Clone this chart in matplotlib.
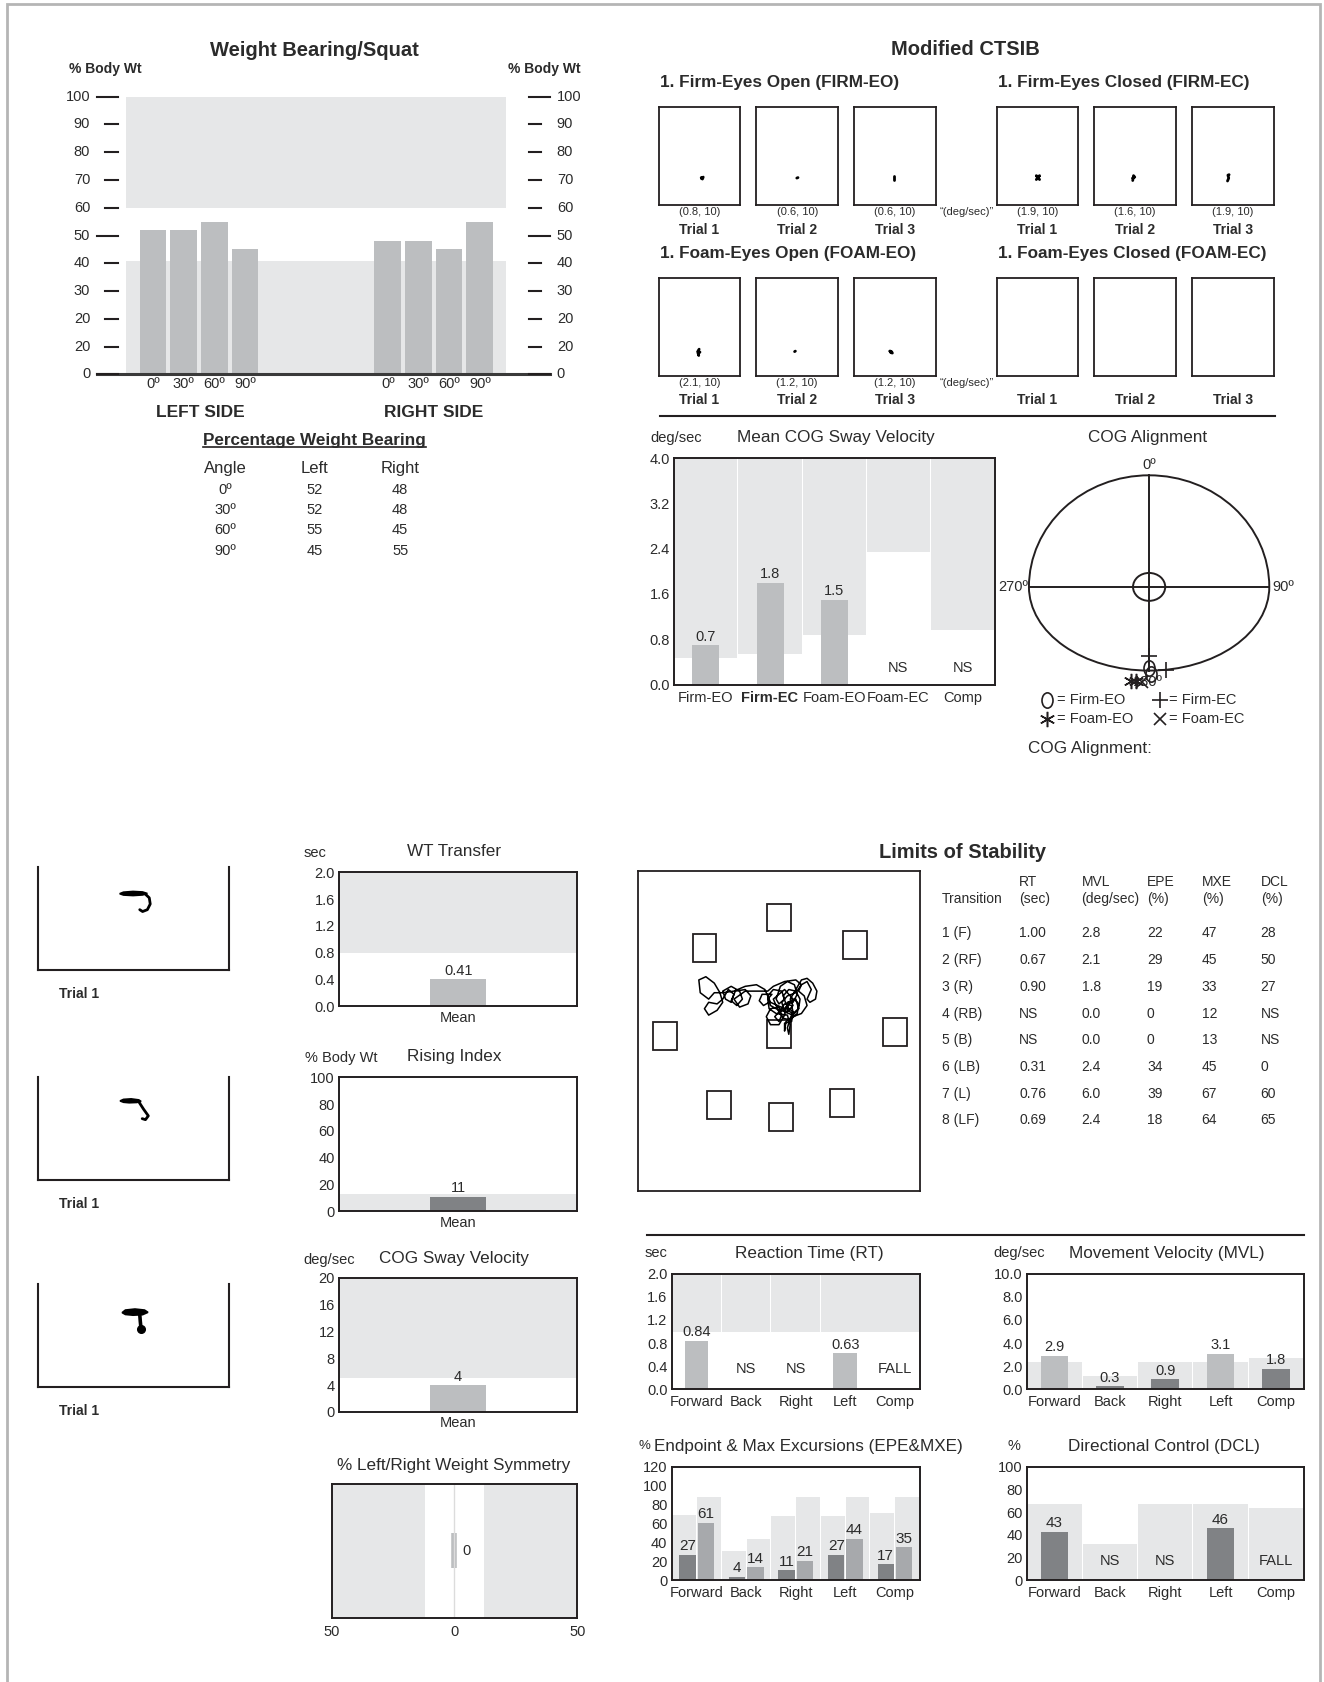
import numpy as np
import matplotlib
matplotlib.use("Agg")
import matplotlib.pyplot as plt
from matplotlib.patches import Rectangle, Ellipse, Arc, Polygon
from matplotlib.lines import Line2D
from matplotlib.path import Path
from matplotlib.transforms import blended_transform_factory as blend

# ---------------------------------------------------------------- data
wb_angles = ['0º', '30º', '60º', '90º']
wb_left = [52, 52, 55, 45]
wb_right = [48, 48, 45, 55]
wb_norm_low = 41
wb_norm_high = 60
wb_ticks = [0, 10, 20, 30, 40, 50, 60, 70, 80, 90, 100]
wb_ticklabels = ['0', '20', '20', '30', '40', '50', '60', '70', '80', '90', '100']
wb_long_ticks = [0, 50, 100]

ctsib_conditions = ['1. Firm-Eyes Open (FIRM-EO)', '1. Firm-Eyes Closed (FIRM-EC)',
                    '1. Foam-Eyes Open (FOAM-EO)', '1. Foam-Eyes Closed (FOAM-EC)']
ctsib_velocity = [[0.8, 0.6, 0.6], [1.9, 1.6, 1.9], [2.1, 1.2, 1.2], [None, None, None]]
ctsib_duration = 10
ctsib_traces = [
    [[(0.525, 0.27), (0.545, 0.285), (0.535, 0.265), (0.52, 0.28)],
     [(0.495, 0.275), (0.51, 0.28)],
     [(0.484, 0.26), (0.484, 0.295)]],
    [[(0.485, 0.26), (0.525, 0.30), (0.505, 0.28), (0.485, 0.30), (0.525, 0.26)],
     [(0.47, 0.25), (0.48, 0.30), (0.495, 0.285), (0.47, 0.275)],
     [(0.435, 0.245), (0.45, 0.275), (0.44, 0.305), (0.455, 0.31)]],
    [[(0.495, 0.27), (0.48, 0.25), (0.505, 0.24), (0.485, 0.225), (0.49, 0.205), (0.478, 0.24)],
     [(0.468, 0.245), (0.478, 0.25)],
     [(0.44, 0.25), (0.46, 0.245), (0.47, 0.23), (0.45, 0.235), (0.44, 0.25)]],
    [[], [], []],
]

cog_cats = ['Firm-EO', 'Firm-EC', 'Foam-EO', 'Foam-EC', 'Comp']
cog_velocity = [0.7, 1.8, 1.5, None, None]
cog_norm = [0.46, 0.54, 0.87, 2.34, 0.97]
cog_emph = 'Firm-EC'

align_labels = ['Firm-EO', 'Firm-EC', 'Foam-EO', 'Foam-EC']
align_x = [[0, 2], [0, 16], [-17, -12], [-7]]
align_y = [[-76, -81], [-64, -77], [-88, -88], [-89]]
align_rx, align_ry_top, align_ry_bottom = 112, 104, 78

rise_traces = [
    {'blob': [(0.43, 0.74), (0.45, 0.755), (0.50, 0.762), (0.55, 0.757), (0.575, 0.742),
              (0.55, 0.728), (0.50, 0.722), (0.45, 0.727)],
     'tail': [(0.565, 0.735), (0.585, 0.70), (0.59, 0.64), (0.575, 0.585), (0.55, 0.567), (0.535, 0.585)]},
    {'blob': [(0.432, 0.77), (0.45, 0.785), (0.49, 0.79), (0.53, 0.78), (0.542, 0.765),
              (0.52, 0.755), (0.48, 0.752), (0.45, 0.757)],
     'tail': [(0.53, 0.762), (0.555, 0.69), (0.58, 0.625), (0.565, 0.588), (0.548, 0.598)]},
    {'blob': [(0.443, 0.725), (0.46, 0.75), (0.51, 0.76), (0.56, 0.75), (0.578, 0.728),
              (0.55, 0.705), (0.50, 0.70), (0.46, 0.707)],
     'tail': [(0.535, 0.71), (0.538, 0.64), (0.542, 0.565)]},
]

wt_mean = 0.41
wt_norm = 0.8
rising_mean = 11
rising_norm = 13
sway_mean = 4
sway_norm = 5
symmetry_value = 0
symmetry_norm = 12

los_target_x = [0.50, 0.235, 0.772, 0.095, 0.913, 0.50, 0.288, 0.723, 0.506]
los_target_y = [0.855, 0.760, 0.769, 0.485, 0.498, 0.490, 0.269, 0.275, 0.232]
los_trace_x = [0.50, 0.48, 0.52, 0.55, 0.52, 0.47, 0.45, 0.42, 0.38, 0.34, 0.30, 0.27,
               0.25, 0.22, 0.215, 0.24, 0.27, 0.29, 0.30, 0.28, 0.25, 0.235, 0.25, 0.28,
               0.30, 0.32, 0.34, 0.33, 0.31, 0.30, 0.33, 0.36, 0.37, 0.35, 0.33, 0.345,
               0.38, 0.40, 0.39, 0.36, 0.34, 0.38, 0.42, 0.46, 0.48, 0.52, 0.56, 0.58,
               0.56, 0.53, 0.51, 0.52, 0.55, 0.57, 0.56, 0.53, 0.52, 0.50, 0.47, 0.455,
               0.47, 0.50, 0.51, 0.50, 0.485, 0.50, 0.53, 0.55, 0.545, 0.52, 0.52, 0.525,
               0.55, 0.58, 0.60, 0.59, 0.57, 0.58, 0.60, 0.615, 0.60, 0.61, 0.63, 0.635,
               0.62, 0.60, 0.58, 0.56, 0.54, 0.55, 0.53, 0.50,
               0.47, 0.46, 0.48, 0.51, 0.52, 0.50, 0.49, 0.505, 0.53, 0.555, 0.565, 0.55,
               0.525, 0.515, 0.535, 0.56, 0.575, 0.57, 0.55, 0.53, 0.535, 0.555, 0.57, 0.565,
               0.54, 0.515, 0.50, 0.52, 0.545, 0.55, 0.54, 0.53, 0.535, 0.54, 0.53, 0.49,
               0.465, 0.46, 0.475, 0.44, 0.43, 0.445, 0.465]
los_trace_y = [0.56, 0.60, 0.63, 0.60, 0.57, 0.59, 0.63, 0.645, 0.64, 0.625, 0.62, 0.62,
               0.60, 0.62, 0.66, 0.67, 0.65, 0.62, 0.59, 0.565, 0.55, 0.57, 0.59, 0.585,
               0.60, 0.63, 0.615, 0.59, 0.60, 0.625, 0.64, 0.625, 0.60, 0.58, 0.595, 0.625,
               0.63, 0.61, 0.585, 0.575, 0.60, 0.625, 0.625, 0.625, 0.64, 0.655, 0.66, 0.645,
               0.62, 0.61, 0.59, 0.56, 0.55, 0.57, 0.60, 0.59, 0.55, 0.52, 0.52, 0.545,
               0.57, 0.575, 0.55, 0.53, 0.545, 0.56, 0.575, 0.56, 0.53, 0.525, 0.50, 0.53,
               0.545, 0.555, 0.58, 0.61, 0.625, 0.645, 0.655, 0.63, 0.60, 0.59, 0.60, 0.625,
               0.65, 0.665, 0.66, 0.63, 0.60, 0.58, 0.56, 0.565,
               0.58, 0.61, 0.63, 0.625, 0.60, 0.585, 0.60, 0.64, 0.655, 0.645, 0.615, 0.59,
               0.585, 0.61, 0.63, 0.625, 0.60, 0.57, 0.555, 0.565, 0.59, 0.60, 0.585, 0.555,
               0.535, 0.54, 0.56, 0.585, 0.58, 0.56, 0.54, 0.51, 0.49, 0.52, 0.55, 0.555,
               0.57, 0.60, 0.615, 0.615, 0.595, 0.58, 0.59]

los_transitions = ['1 (F)', '2 (RF)', '3 (R)', '4 (RB)', '5 (B)', '6 (LB)', '7 (L)', '8 (LF)']
los_rt = ['1.00', '0.67', '0.90', 'NS', 'NS', '0.31', '0.76', '0.69']
los_mvl = ['2.8', '2.1', '1.8', '0.0', '0.0', '2.4', '6.0', '2.4']
los_epe = ['22', '29', '19', '0', '0', '34', '39', '18']
los_mxe = ['47', '45', '33', '12', '13', '45', '67', '64']
los_dcl = ['28', '50', '27', 'NS', 'NS', '0', '60', '65']

dir_cats = ['Forward', 'Back', 'Right', 'Left', 'Comp']
rt_values = [0.84, None, None, 0.63, None]
rt_flags = ['', 'NS', 'NS', '', 'FALL']
rt_norm = [1.0, 1.0, 1.0, 1.0, 1.0]
mvl_values = [2.9, 0.3, 0.9, 3.1, 1.8]
mvl_norm = [2.4, 1.2, 2.4, 2.4, 2.7]
epe_values = [27, 4, 11, 27, 17]
mxe_values = [61, 14, 21, 44, 35]
epe_norm = [69, 31, 68, 68, 71]
mxe_norm = [88, 44, 88, 88, 88]
dcl_values = [43, None, None, 46, None]
dcl_flags = ['', 'NS', 'NS', '', 'FALL']
dcl_norm = [67, 32, 67, 67, 64]

# ---------------------------------------------------------------- style
INK = '#231f20'
TXT = '#2b2b2b'
BAND = '#e6e7e8'
LIGHT = '#bcbec0'
MID = '#a7a9ac'
DARK = '#808285'
FRAME = '#b5b5b5'
TITLE = 12.3
UNIT = 10.5

plt.rcParams['font.family'] = ['Liberation Sans', 'DejaVu Sans']
plt.rcParams['text.color'] = TXT

W, H = 1324, 1682
S = W / 1234.0
fig = plt.figure(figsize=(W / 100, H / 100), dpi=100)
fig.patch.set_facecolor('white')


def fr(x, y):
    return x * S / W, 1 - y * S / H


def box(x0, y0, x1, y1):
    return [x0 * S / W, 1 - y1 * S / H, (x1 - x0) * S / W, (y1 - y0) * S / H]


def T(x, y, s, size=10.5, ha='center', va='center', **kw):
    return fig.text(*fr(x, y), s, fontsize=size, ha=ha, va=va, **kw)


def hline(x0, x1, y, lw=1.5, color=INK):
    (a, b), (c, _) = fr(x0, y), fr(x1, y)
    fig.add_artist(Line2D([a, c], [b, b], transform=fig.transFigure, lw=lw, color=color))


def framed(ax, lw=1.4):
    for s in ax.spines.values():
        s.set_color(INK)
        s.set_linewidth(lw)
    ax.tick_params(length=0, labelsize=10.5, colors=TXT, pad=3)


def label_bar(ax, x, v, text, size=10.5):
    ax.annotate(text, (x, v), xytext=(0, 1), textcoords='offset points',
                ha='center', va='bottom', fontsize=size, color=TXT)


# page frame
fig.add_artist(Rectangle((7 / W, -0.01), (1320 - 7) / W, 1.01 - 4 / H,
                         transform=fig.transFigure, fill=False, ec=FRAME, lw=2))

# ---------------------------------------------------------------- weight bearing / squat
T(293, 47, 'Weight Bearing/Squat', 14.5, weight='bold')
T(98, 64, '% Body Wt', 10, weight='bold')
T(507, 64, '% Body Wt', 10, weight='bold')

ax = fig.add_axes(box(90, 90, 513, 349))
ax.axis('off')
pos_l = np.arange(len(wb_angles))
pos_r = pos_l + 7.65
ax.set_xlim(-1.836, 12.95)
ax.set_ylim(0, 100)
band_x = [-0.89, 11.49]
ax.fill_between(band_x, 0, wb_norm_low, color=BAND, lw=0)
ax.fill_between(band_x, wb_norm_high, 100, color=BAND, lw=0)
ax.bar(pos_l, wb_left, width=0.87, color=LIGHT)
ax.bar(pos_r, wb_right, width=0.87, color=LIGHT)
tr = blend(ax.transAxes, ax.transData)
ax.plot([0, 1], [0, 0], transform=tr, color='#3a3a3a', lw=2.2, clip_on=False)
for v, lab in zip(wb_ticks, wb_ticklabels):
    long_tick = v in wb_long_ticks
    ax.plot([0 if long_tick else 0.019, 0.048], [v, v], transform=tr, color=INK, lw=1.5, clip_on=False)
    ax.plot([0.953, 1.0 if long_tick else 0.98], [v, v], transform=tr, color=INK, lw=1.5, clip_on=False)
    ax.text(-0.014, v, lab, transform=tr, ha='right', va='center', fontsize=10.5)
    ax.text(1.014, v, lab, transform=tr, ha='left', va='center', fontsize=10.5)
for p, lab in list(zip(pos_l, wb_angles)) + list(zip(pos_r, wb_angles)):
    ax.annotate(lab, (p, 0), xytext=(0, -7), textcoords='offset points',
                ha='center', va='center', fontsize=10.5)
T(187, 384, 'LEFT SIDE', 12.5, weight='bold')
T(404, 384, 'RIGHT SIDE', 12.5, weight='bold')

pwb = T(293, 411, 'Percentage Weight Bearing', 12.3, weight='bold')
T(210, 437, 'Angle', 12)
T(293, 437, 'Left', 12)
T(373, 437, 'Right', 12)
for i, (a, l, r) in enumerate(zip(wb_angles, wb_left, wb_right)):
    y = 457 + 18.7 * i
    T(210, y, a, 10.5)
    T(293, y, str(l), 10.5)
    T(373, y, str(r), 10.5)

# ---------------------------------------------------------------- modified CTSIB
T(900, 46, 'Modified CTSIB', 14.5, weight='bold')
box_x = [614, 705, 796, 929, 1020, 1111]
row_top = [100, 259]
for ci, cond in enumerate(ctsib_conditions):
    row, side = divmod(ci, 2)
    T(615 if side == 0 else 930, 77 + 159 * row, cond, 12.3, ha='left', weight='bold')
    for k in range(3):
        x0 = box_x[3 * side + k]
        y0 = row_top[row]
        bx = fig.add_axes(box(x0, y0, x0 + 76, y0 + 91))
        bx.set_xlim(0, 1)
        bx.set_ylim(0, 1)
        bx.set_xticks([])
        bx.set_yticks([])
        for s in bx.spines.values():
            s.set_linewidth(1.3)
            s.set_color(INK)
        pts = ctsib_traces[ci][k]
        if pts:
            xs, ys = zip(*pts)
            bx.plot(xs, ys, color='black', lw=2.0, solid_capstyle='round')
        xc = x0 + 38
        v = ctsib_velocity[ci][k]
        if v is not None:
            T(xc, y0 + 98, f'({v}, {ctsib_duration})', 8)
        T(xc, y0 + 114, f'Trial {k + 1}', 10, weight='bold')
    if side == 0:
        T(901, row_top[row] + 98, '“(deg/sec)”', 8)
hline(615, 1188, 388, lw=1.5)

# ---------------------------------------------------------------- mean COG sway velocity
T(630, 408, 'deg/sec', UNIT)
T(779, 408, 'Mean COG Sway Velocity', TITLE)
ax = fig.add_axes(box(628, 427, 927, 638))
framed(ax)
xc = np.arange(len(cog_cats))
ax.bar(xc, [4.0 - n for n in cog_norm], bottom=cog_norm, width=0.985, color=BAND)
for i, v in enumerate(cog_velocity):
    if v is None:
        ax.text(i, 0.3, 'NS', ha='center', va='center', fontsize=10.5)
    else:
        ax.bar(i, v, width=0.42, color=LIGHT)
        label_bar(ax, i, v, f'{v:.1f}')
ax.set_xlim(-0.5, len(cog_cats) - 0.5)
ax.set_ylim(0, 4.0)
ax.set_yticks(np.arange(0, 4.01, 0.8))
ax.set_yticklabels([f'{t:.1f}' for t in np.arange(0, 4.01, 0.8)])
ax.set_xticks(xc)
ax.set_xticklabels(cog_cats)
ax.tick_params(axis='x', pad=5)
for t in ax.get_xticklabels():
    if t.get_text() == cog_emph:
        t.set_fontweight('bold')

# ---------------------------------------------------------------- COG alignment
T(1070, 408, 'COG Alignment', TITLE)
ax = fig.add_axes(box(925, 415, 1215, 710))
ax.axis('off')
ax.set_xlim(925 - 1071, 1215 - 1071)
ax.set_ylim(547 - 710, 547 - 415)
ax.add_patch(Arc((0, 0), 2 * align_rx, 2 * align_ry_top, theta1=0, theta2=180, color=INK, lw=1.4))
ax.add_patch(Arc((0, 0), 2 * align_rx, 2 * align_ry_bottom, theta1=180, theta2=360, color=INK, lw=1.4))
ax.plot([-align_rx, align_rx], [0, 0], color=INK, lw=1.4)
ax.plot([0, 0], [align_ry_top, -align_ry_bottom], color=INK, lw=1.4)
ax.add_patch(Ellipse((0, 0), 30, 26, fill=False, ec=INK, lw=1.4))
ax.text(0, align_ry_top + 10, '0º', ha='center', va='center', fontsize=10.5)
ax.text(-align_rx - 1, 0, '270º', ha='right', va='center', fontsize=10.5)
ax.text(align_rx + 3, 0, '90º', ha='left', va='center', fontsize=10.5)
ax.text(-1, -89, '180º', ha='center', va='center', fontsize=10.5)

circ = Path.unit_circle()
oval = Path(circ.vertices * np.array([0.72, 1.0]), circ.codes)
align_markers = [
    dict(marker=oval, ms=11, mfc='none', mec=INK, mew=1.2),
    dict(marker='+', ms=12, mec=INK, mew=1.2),
    dict(marker=(6, 2, 0), ms=11, mec=INK, mew=1.1),
    dict(marker='x', ms=9, mec=INK, mew=1.2),
]
for xs, ys, st in zip(align_x, align_y, align_markers):
    ax.plot(xs, ys, ls='none', clip_on=False, zorder=5, **st)
leg_pos = [(-95, -105), (10, -105), (-95, -123), (10, -123)]
for (lx, ly), lab, st in zip(leg_pos, align_labels, align_markers):
    ax.plot([lx], [ly], ls='none', clip_on=False, **st)
    ax.text(lx + 9, ly, '= ' + lab, ha='left', va='center', fontsize=10.5)
ax.text(-113, -151, 'COG Alignment:', ha='left', va='center', fontsize=TITLE)

# ---------------------------------------------------------------- sit-to-stand traces
for i, (tr_data, y0) in enumerate(zip(rise_traces, [808, 1004, 1197])):
    bx = fig.add_axes(box(35, y0, 213, y0 + 96))
    bx.set_xlim(0, 1)
    bx.set_ylim(0, 1)
    bx.set_xticks([])
    bx.set_yticks([])
    bx.spines['top'].set_visible(False)
    for s in ['left', 'right', 'bottom']:
        bx.spines[s].set_linewidth(1.5)
        bx.spines[s].set_color(INK)
    bx.add_patch(Polygon(tr_data['blob'], closed=True, fc='black', ec='black', lw=1.2))
    xs, ys = zip(*tr_data['tail'])
    bx.plot(xs, ys, color='black', lw=2.0 if i < 2 else 2.6, solid_capstyle='round')
    if i == 2:
        bx.plot([xs[-1]], [ys[-1]], 'o', color='black', ms=5.5)
    T(55, y0 + 118, 'Trial 1', 10, ha='left', weight='bold')


def mean_panel(rect, unit, unit_x, title, title_y, ymax, ticks, tick_fmt,
               value, band, band_above, bar_color, value_fmt):
    T(unit_x, title_y + 1, unit, UNIT)
    T(423, title_y, title, TITLE)
    ax = fig.add_axes(box(*rect))
    framed(ax)
    if band_above:
        ax.axhspan(band, ymax, color=BAND, lw=0)
    else:
        ax.axhspan(0, band, color=BAND, lw=0)
    ax.bar(0, value, width=0.234, color=bar_color)
    label_bar(ax, 0, value, value_fmt.format(value))
    ax.set_xlim(-0.5, 0.5)
    ax.set_ylim(0, ymax)
    ax.set_yticks(ticks)
    ax.set_yticklabels([tick_fmt.format(t) for t in ticks])
    ax.set_xticks([0])
    ax.set_xticklabels(['Mean'])
    return ax


mean_panel((316, 813, 538, 938), 'sec', 294, 'WT Transfer', 794, 2.0,
           [0, 0.4, 0.8, 1.2, 1.6, 2.0], '{:.1f}', wt_mean, wt_norm, True, LIGHT, '{:.2f}')
mean_panel((316, 1004, 538, 1129), '% Body Wt', 318, 'Rising Index', 985, 100,
           [0, 20, 40, 60, 80, 100], '{:d}', rising_mean, rising_norm, False, DARK, '{:d}')
mean_panel((316, 1191, 538, 1316), 'deg/sec', 307, 'COG Sway Velocity', 1173, 20,
           [0, 4, 8, 12, 16, 20], '{:d}', sway_mean, sway_norm, True, LIGHT, '{:d}')

# left/right weight symmetry
T(423, 1366, '% Left/Right Weight Symmetry', TITLE)
ax = fig.add_axes(box(309, 1383, 538, 1508))
framed(ax)
ax.axvspan(-50, -symmetry_norm, color=BAND, lw=0)
ax.axvspan(symmetry_norm, 50, color=BAND, lw=0)
ax.axvline(0, color='#dcdcdc', lw=1.0)
ax.barh(0.5, symmetry_value, left=0, height=0.26, color=LIGHT, ec=LIGHT, lw=4)
ax.text(symmetry_value + 5, 0.5, str(symmetry_value), ha='center', va='center', fontsize=10.5)
ax.set_xlim(-50, 50)
ax.set_ylim(0, 1)
ax.set_yticks([])
ax.set_xticks([-50, 0, 50])
ax.set_xticklabels(['50', '0', '50'])
ax.tick_params(axis='x', pad=5)

# ---------------------------------------------------------------- limits of stability
T(897, 795, 'Limits of Stability', 14.5, weight='bold')
ax = fig.add_axes(box(595, 812, 857, 1110))
ax.set_xlim(0, 1)
ax.set_ylim(0, 1)
ax.set_xticks([])
ax.set_yticks([])
for s in ax.spines.values():
    s.set_linewidth(1.3)
    s.set_color(INK)
tw, th = 0.085, 0.087
for cx, cy in zip(los_target_x, los_target_y):
    ax.add_patch(Rectangle((cx - tw / 2, cy - th / 2), tw, th, fill=False, ec=INK, lw=1.3))
ax.plot(los_trace_x, los_trace_y, color='black', lw=1.1)

cols_x = [878, 950, 1008, 1069, 1120, 1175]
head1 = ['', 'RT', 'MVL', 'EPE', 'MXE', 'DCL']
head2 = ['Transition', '(sec)', '(deg/sec)', '(%)', '(%)', '(%)']
for x, h1, h2 in zip(cols_x, head1, head2):
    if h1:
        T(x, 822, h1, 10, ha='left')
    T(x, 838, h2, 10, ha='left')
for i, row in enumerate(zip(los_transitions, los_rt, los_mvl, los_epe, los_mxe, los_dcl)):
    y = 870 + 24.9 * i
    for x, val in zip(cols_x, row):
        T(x, y, val, 10, ha='left')

hline(603, 1215, 1151, lw=1.5)

xd = np.arange(len(dir_cats))


def dir_axes(rect, ymax, ticks, fmt):
    ax = fig.add_axes(box(*rect))
    framed(ax)
    ax.set_xlim(-0.5, len(dir_cats) - 0.5)
    ax.set_ylim(0, ymax)
    ax.set_yticks(ticks)
    ax.set_yticklabels([fmt.format(t) for t in ticks])
    ax.set_xticks(xd)
    ax.set_xticklabels(dir_cats)
    ax.tick_params(axis='x', pad=4)
    return ax


# reaction time
T(611, 1168, 'sec', UNIT)
T(754, 1168, 'Reaction Time (RT)', TITLE)
ax = dir_axes((626, 1187, 857, 1295), 2.0, [0, 0.4, 0.8, 1.2, 1.6, 2.0], '{:.1f}')
ax.bar(xd, [2.0 - n for n in rt_norm], bottom=rt_norm, width=0.985, color=BAND)
for i, (v, f) in enumerate(zip(rt_values, rt_flags)):
    if v is None:
        ax.text(i, 0.36, f, ha='center', va='center', fontsize=10.5)
    else:
        ax.bar(i, v, width=0.48, color=LIGHT)
        label_bar(ax, i, v, f'{v:.2f}')

# movement velocity
T(950, 1168, 'deg/sec', UNIT)
T(1087, 1168, 'Movement Velocity (MVL)', TITLE)
ax = dir_axes((957, 1187, 1215, 1295), 10.0, [0, 2, 4, 6, 8, 10], '{:.1f}')
ax.bar(xd, mvl_norm, width=0.985, color=BAND)
for i, (v, n) in enumerate(zip(mvl_values, mvl_norm)):
    ax.bar(i, v, width=0.5, color=LIGHT if v >= n else DARK)
    label_bar(ax, i, v, f'{v:.1f}')

# endpoint / max excursions
T(601, 1348, '%', 9.5)
T(753, 1348, 'Endpoint & Max Excursions (EPE&MXE)', TITLE)
ax = dir_axes((626, 1367, 857, 1473), 120, [0, 20, 40, 60, 80, 100, 120], '{:d}')
ax.bar(xd - 0.25, epe_norm, width=0.48, color=BAND)
ax.bar(xd + 0.25, mxe_norm, width=0.48, color=BAND)
for i, (e, m) in enumerate(zip(epe_values, mxe_values)):
    ax.bar(i - 0.18, e, width=0.33, color=DARK)
    ax.bar(i + 0.19, m, width=0.33, color=MID)
    label_bar(ax, i - 0.18, e, str(e), 11)
    label_bar(ax, i + 0.19, m, str(m), 11)

# directional control
T(945, 1348, '%', UNIT)
T(1085, 1348, 'Directional Control (DCL)', TITLE)
ax = dir_axes((957, 1367, 1215, 1473), 100, [0, 20, 40, 60, 80, 100], '{:d}')
ax.bar(xd, dcl_norm, width=0.985, color=BAND)
for i, (v, f) in enumerate(zip(dcl_values, dcl_flags)):
    if v is None:
        ax.text(i, 17, f, ha='center', va='center', fontsize=10.5)
    else:
        ax.bar(i, v, width=0.49, color=DARK)
        label_bar(ax, i, v, str(v), 11)

# underline for the weight-bearing table heading
fig.canvas.draw()
bb = pwb.get_window_extent(fig.canvas.get_renderer())
fig.add_artist(Line2D([bb.x0 / W, bb.x1 / W], [(bb.y0 + 1) / H] * 2,
                      transform=fig.transFigure, color=INK, lw=1.2))

fig.savefig('out.png', dpi=100)
